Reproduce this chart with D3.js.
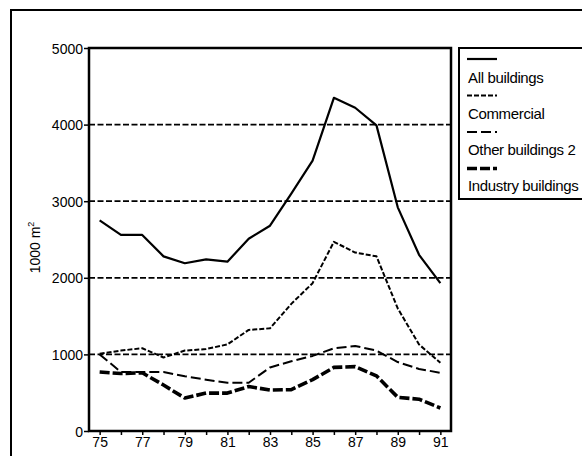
<!DOCTYPE html>
<html>
<head>
<meta charset="utf-8">
<script src="https://cdn.jsdelivr.net/npm/d3@7"></script>
<style>
  body { margin: 0; background: #fff; }
  text { font-family: 'Liberation Sans', Arial, sans-serif; fill: #000; }
</style>
</head>
<body>
<div id="chart"></div>
<script>
const years = [75, 76, 77, 78, 79, 80, 81, 82, 83, 84, 85, 86, 87, 88, 89, 90, 91]
const allBuildings = [2750, 2560, 2560, 2280, 2190, 2240, 2210, 2510, 2680, 3100, 3530, 4350, 4220, 3990, 2920, 2300, 1930]
const commercial = [1010, 1050, 1080, 960, 1050, 1070, 1130, 1320, 1340, 1660, 1930, 2470, 2330, 2280, 1600, 1130, 890]
const otherBuildings = [1000, 770, 770, 770, 715, 670, 630, 630, 830, 910, 980, 1080, 1110, 1050, 900, 810, 760]
const industry = [770, 750, 760, 600, 430, 495, 495, 580, 535, 540, 670, 830, 840, 720, 440, 415, 300]
const yTicks = [0, 1000, 2000, 3000, 4000, 5000]
const legendLabels = ['All buildings', 'Commercial', 'Other buildings 2', 'Industry buildings']

const width = 582
const height = 456
const margin = { top: 48, left: 89, right: 131, bottom: 25 }

const svg = d3
  .select('#chart')
  .append('svg')
  .attr('width', width)
  .attr('height', height)

// outer frame, runs off the right and bottom of the picture
svg
  .append('rect')
  .attr('x', 11)
  .attr('y', 10)
  .attr('width', 600)
  .attr('height', 480)
  .attr('fill', 'none')
  .attr('stroke', '#000')
  .attr('stroke-width', 2)

const xScale = d3.scaleLinear().domain([74.5, 91.5]).range([margin.left, width - margin.right])
const yScale = d3.scaleLinear().domain([0, 5000]).range([height - margin.bottom, margin.top])

// dashed grid lines
svg
  .selectAll('.grid')
  .data(yTicks.filter(d => d > 0 && d < 5000))
  .enter()
  .append('line')
  .attr('class', 'grid')
  .attr('x1', xScale.range()[0])
  .attr('x2', xScale.range()[1])
  .attr('y1', d => yScale(d))
  .attr('y2', d => yScale(d))
  .attr('stroke', '#000')
  .attr('stroke-width', 1.7)
  .attr('stroke-dasharray', '6,2.5')

// y axis
const yAxis = d3
  .axisLeft(yScale)
  .tickValues(yTicks)
  .tickSize(5)
  .tickPadding(1)
  .tickFormat(d3.format('d'))
svg
  .append('g')
  .attr('transform', `translate(${margin.left},0)`)
  .call(yAxis)
  .call(g => g.select('.domain').remove())
  .call(g => g.selectAll('line').attr('stroke-width', 1.5))
  .call(g => g.selectAll('text').style('font-size', '14px').style('font-family', 'Liberation Sans, Arial, sans-serif').attr('dy', '0.36em'))

// x axis, ticks every year, labels on odd years
const xAxis = d3
  .axisBottom(xScale)
  .tickValues(years)
  .tickSize(4)
  .tickPadding(2)
  .tickFormat(d => (d % 2 === 1 ? d : ''))
svg
  .append('g')
  .attr('transform', `translate(0,${yScale(0)})`)
  .call(xAxis)
  .call(g => g.select('.domain').remove())
  .call(g => g.selectAll('line').attr('stroke-width', 1.5))
  .call(g => g.selectAll('text').style('font-size', '14px').style('font-family', 'Liberation Sans, Arial, sans-serif'))

// plot box
svg
  .append('rect')
  .attr('x', xScale.range()[0])
  .attr('y', yScale(5000))
  .attr('width', xScale.range()[1] - xScale.range()[0])
  .attr('height', yScale(0) - yScale(5000))
  .attr('fill', 'none')
  .attr('stroke', '#000')
  .attr('stroke-width', 2.5)

svg
  .append('text')
  .attr('transform', `translate(40,${(yScale(2500) + 8)}) rotate(-90)`)
  .attr('text-anchor', 'middle')
  .style('font-size', '14px')
  .text('1000 m')
  .append('tspan')
  .attr('dy', -6)
  .style('font-size', '9px')
  .text('2')

const series = [
  { values: allBuildings, width: 2.2, dash: null },
  { values: commercial, width: 2, dash: '5,2' },
  { values: otherBuildings, width: 2, dash: '10,4' },
  { values: industry, width: 3.6, dash: '10,3' }
]

const line = d3
  .line()
  .x((d, i) => xScale(years[i]))
  .y(d => yScale(d))

svg
  .selectAll('.series')
  .data(series)
  .enter()
  .append('path')
  .attr('class', 'series')
  .attr('d', d => line(d.values))
  .attr('fill', 'none')
  .attr('stroke', '#000')
  .attr('stroke-width', d => d.width)
  .attr('stroke-dasharray', d => d.dash)
  .attr('stroke-linejoin', 'round')

// Handmade legend
const legend = svg.append('g').attr('transform', 'translate(459,48)')
legend
  .append('rect')
  .attr('x', 0)
  .attr('y', 0)
  .attr('width', 140)
  .attr('height', 151)
  .attr('fill', '#fff')
  .attr('stroke', '#000')
  .attr('stroke-width', 2)

legend
  .selectAll('.legend-line')
  .data(series)
  .enter()
  .append('line')
  .attr('class', 'legend-line')
  .attr('x1', 8)
  .attr('x2', 38)
  .attr('y1', (d, i) => 11 + i * 36.5)
  .attr('y2', (d, i) => 11 + i * 36.5)
  .attr('stroke', '#000')
  .attr('stroke-width', d => d.width)
  .attr('stroke-dasharray', d => d.dash)

legend
  .selectAll('.legend-text')
  .data(legendLabels)
  .enter()
  .append('text')
  .attr('class', 'legend-text')
  .attr('x', 9)
  .attr('y', (d, i) => 35 + i * 36)
  .style('font-size', '15px')
  .style('letter-spacing', '-0.35px')
  .text(d => d)
</script>
</body>
</html>
